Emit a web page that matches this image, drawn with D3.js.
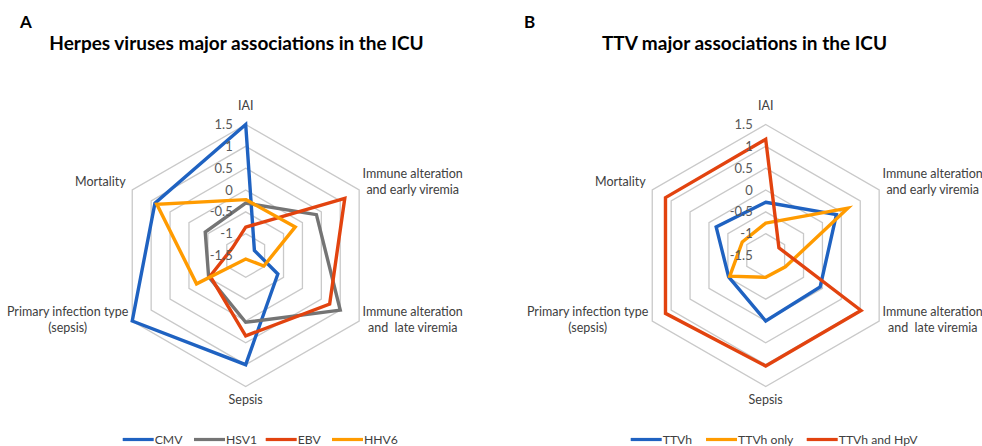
<!DOCTYPE html>
<html>
<head>
<meta charset="utf-8">
<script src="https://cdn.jsdelivr.net/npm/d3@7"></script>
<style>
  html, body { margin: 0; padding: 0; background: #fff; }
  svg { display: block; }
  text { font-family: Lato, "Open Sans", sans-serif; }
</style>
</head>
<body>
<svg id="chart" width="982" height="446"></svg>
<script>
// ---------- data ----------
const categories = [
  "IAI",
  "Immune alteration|and early viremia",
  "Immune alteration|and  late viremia",
  "Sepsis",
  "Primary infection type|(sepsis)",
  "Mortality"
];
const tickValues = [-1.5, -1, -0.5, 0, 0.5, 1, 1.5];
const tickLabels = ["-1.5", "-1", "-0.5", "0", "0.5", "1", "1.5"];

// Panel A – herpes viruses
const seriesNamesA = ["CMV", "HSV1", "EBV", "HHV6"];
const cmv  = [1.5, -1.27, -0.65, 1.0, 1.5, 0.9];
const hsv1 = [-0.3, 0.37, 1.0, 0.03, -0.52, -0.43];
const ebv  = [-0.85, 1.12, 0.72, 0.34, -0.56, -1.15];
const hhv6 = [-0.22, -0.19, -1.02, -1.42, -0.2, 0.85];

// Panel B – TTV
const seriesNamesB = ["TTVh", "TTVh only", "TTVh and HpV"];
const ttvh     = [-0.28, 0.37, -0.06, 0.0, -0.52, -0.19];
const ttvhOnly = [-0.76, 0.67, -0.98, -1.0, -0.55, -0.88];
const ttvhHpv  = [1.16, -1.15, 1.02, 1.03, 1.15, 1.15];

const titleA = "Herpes viruses major associations in the ICU";
const titleB = "TTV major associations in the ICU";

// ---------- styles ----------
const COL_BLUE = "#1F62C1", COL_GRAY = "#747474", COL_RED = "#E2430F", COL_ORANGE = "#FF9B00";

const svg = d3.select("#chart");
svg.append("rect").attr("width", 982).attr("height", 446).attr("fill", "#fff");

const R = 131;
const rScale = d3.scaleLinear().domain([-1.5, 1.5]).range([0, R]);
const angle = d3.scalePoint().domain(d3.range(categories.length)).range([0, 2 * Math.PI * (categories.length - 1) / categories.length]);

function drawRadar(cx, cy, series, labelOpts) {
  const g = svg.append("g").attr("transform", `translate(${cx},${cy})`);
  // grid rings
  tickValues.slice(1).forEach(v => {
    const pts = categories.map((c, i) => [Math.sin(angle(i)) * rScale(v), -Math.cos(angle(i)) * rScale(v)]);
    g.append("polygon").attr("points", pts.map(p => p.join(",")).join(" "))
      .attr("fill", "none").attr("stroke", "#C9C9C9").attr("stroke-width", 1.3);
  });
  // series
  const line = d3.lineRadial()
    .angle((d, i) => angle(i))
    .radius(d => rScale(d))
    .curve(d3.curveLinearClosed);
  series.forEach(s => {
    g.append("path").attr("d", line(s.values))
      .attr("fill", "none").attr("stroke", s.color).attr("stroke-width", 3.4)
      .attr("stroke-linejoin", "miter");
  });
  // tick labels
  tickValues.forEach((v, i) => {
    g.append("text").attr("x", -13).attr("y", -rScale(v)).attr("dy", "0.35em")
      .attr("text-anchor", "end").attr("font-size", 13).attr("fill", "#595959")
      .text(tickLabels[i]);
  });
  // category labels
  const pos = labelOpts;
  categories.forEach((c, i) => {
    const p = pos[i];
    const t = g.append("text").attr("x", p[0]).attr("y", p[1])
      .attr("text-anchor", p[2]).attr("font-size", 12.5).attr("fill", "#404040");
    c.split("|").forEach((ln, k) => {
      t.append("tspan").attr("x", p[0]).attr("dy", k === 0 ? 0 : 16.3).text(ln)
        .attr("xml:space", "preserve").style("white-space", "pre");
    });
  });
  return g;
}

function drawLegend(x0, y, items) {
  const g = svg.append("g");
  items.forEach(it => {
    g.append("line").attr("x1", it.x).attr("x2", it.x + 31).attr("y1", y).attr("y2", y)
      .attr("stroke", it.color).attr("stroke-width", 3.2);
    g.append("text").attr("x", it.x + 32).attr("y", y).attr("dy", "0.36em")
      .attr("font-size", 12.2).attr("fill", "#404040").text(it.name);
  });
}

// panel A
const seriesA = [
  { name: seriesNamesA[0], values: cmv, color: COL_BLUE },
  { name: seriesNamesA[1], values: hsv1, color: COL_GRAY },
  { name: seriesNamesA[2], values: ebv, color: COL_RED },
  { name: seriesNamesA[3], values: hhv6, color: COL_ORANGE }
];
const labelPosA = [
  [0, -146, "middle"],
  [167, -78, "middle"],
  [167, 60, "middle"],
  [0, 148, "middle"],
  [-178, 60, "middle"],
  [-120, -70, "end"]
];
drawRadar(245.7, 255.5, seriesA, labelPosA);

const seriesB = [
  { name: seriesNamesB[0], values: ttvh, color: COL_BLUE },
  { name: seriesNamesB[1], values: ttvhOnly, color: COL_ORANGE },
  { name: seriesNamesB[2], values: ttvhHpv, color: COL_RED }
];
drawRadar(765.7, 255.5, seriesB, labelPosA);

// titles
svg.append("text").attr("x", 20).attr("y", 28).attr("font-size", 17).attr("font-weight", "bold").attr("fill", "#000").text("A");
svg.append("text").attr("x", 236.5).attr("y", 50).attr("text-anchor", "middle").attr("font-size", 19).attr("font-weight", "bold").attr("fill", "#000").text(titleA);
svg.append("text").attr("x", 524).attr("y", 28).attr("font-size", 17).attr("font-weight", "bold").attr("fill", "#000").text("B");
svg.append("text").attr("x", 744.5).attr("y", 50).attr("text-anchor", "middle").attr("font-size", 19).attr("font-weight", "bold").attr("fill", "#000").text(titleB);

// legends
drawLegend(0, 439.5, [
  { name: seriesNamesA[0], color: COL_BLUE, x: 122.7 },
  { name: seriesNamesA[1], color: COL_GRAY, x: 194 },
  { name: seriesNamesA[2], color: COL_RED, x: 265.7 },
  { name: seriesNamesA[3], color: COL_ORANGE, x: 332 }
]);
drawLegend(0, 439.5, [
  { name: seriesNamesB[0], color: COL_BLUE, x: 630.7 },
  { name: seriesNamesB[1], color: COL_ORANGE, x: 706 },
  { name: seriesNamesB[2], color: COL_RED, x: 806.7 }
]);
</script>
</body>
</html>
